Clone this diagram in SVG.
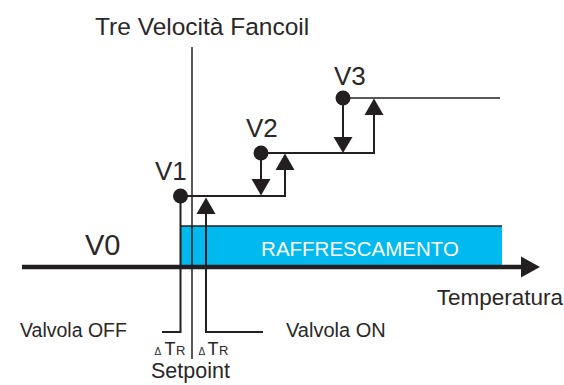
<svg xmlns="http://www.w3.org/2000/svg" width="564" height="385" viewBox="0 0 564 385">
<style>
.t{font-family:"Liberation Sans",Arial,sans-serif;fill:#2a2728}
.ln{stroke:#231f20;stroke-width:2;fill:none}
.thin{stroke:#231f20;stroke-width:1.5;fill:none}
.hd{fill:#231f20}
</style>
<rect width="564" height="385" fill="#ffffff"/>
<g id="title"><text class="t" x="95" y="35" font-size="24.5">Tre Velocità Fancoil</text></g>
<g id="raffrescamento">
<rect x="180.5" y="226" width="321.5" height="40" fill="#00b9ef"/>
<line x1="180.5" y1="226" x2="502" y2="226" class="thin"/>
<text x="360" y="256" font-size="20.5" text-anchor="middle" font-family="Liberation Sans,Arial,sans-serif" fill="#ffffff">RAFFRESCAMENTO</text>
</g>
<g id="axis">
<line x1="22" y1="267" x2="524" y2="267" stroke="#231f20" stroke-width="4.5"/>
<polygon class="hd" points="521,256.5 540,267 521,277.5"/>
<text class="t" x="563" y="305" font-size="22.5" text-anchor="end">Temperatura</text>
</g>
<g id="connectors">
<line x1="192" y1="47" x2="192" y2="359" class="thin"/>
<polyline points="180.5,196 180.5,332 162,332" class="ln"/>
<polyline points="206,212 206,332 263,332" class="ln"/>
<line x1="180" y1="196" x2="286" y2="196" class="ln"/>
<line x1="261" y1="153" x2="261" y2="181" class="ln"/>
<polyline points="285,168 285,196" class="ln"/>
<line x1="261" y1="153" x2="375" y2="153" class="ln"/>
<line x1="343" y1="98" x2="343" y2="138" class="ln"/>
<line x1="374" y1="113" x2="374" y2="153" class="ln"/>
<line x1="343" y1="98" x2="500" y2="98" class="thin"/>
<polygon class="hd" points="196.5,214 206,197.5 215.5,214"/>
<polygon class="hd" points="251.5,179 261,195.5 270.5,179"/>
<polygon class="hd" points="275.5,170 285,153.5 294.5,170"/>
<polygon class="hd" points="333.5,137 343,153 352.5,137"/>
<polygon class="hd" points="364.5,115 374,98.5 383.5,115"/>
</g>
<g id="v0"><text class="t" x="85" y="255" font-size="29">V0</text></g>
<g id="v1"><circle cx="180.5" cy="196" r="7.5" class="hd"/><text class="t" x="155" y="180" font-size="26">V1</text></g>
<g id="v2"><circle cx="261" cy="153" r="7.5" class="hd"/><text class="t" x="246" y="137" font-size="26">V2</text></g>
<g id="v3"><circle cx="343" cy="98" r="7.5" class="hd"/><text class="t" x="334" y="85" font-size="26">V3</text></g>
<g id="valvola-off"><text class="t" x="20" y="337" font-size="19.5">Valvola OFF</text></g>
<g id="valvola-on"><text class="t" x="286" y="337" font-size="20">Valvola ON</text></g>
<g id="delta-left"><text class="t" y="355"><tspan x="154.5" font-size="10">Δ</tspan><tspan x="164.5" font-size="18">T</tspan><tspan x="176" font-size="13">R</tspan></text></g>
<g id="delta-right"><text class="t" y="355"><tspan x="198.5" font-size="10">Δ</tspan><tspan x="207.5" font-size="18">T</tspan><tspan x="219" font-size="13">R</tspan></text></g>
<g id="setpoint"><text class="t" x="151" y="378" font-size="21.5">Setpoint</text></g>
</svg>
